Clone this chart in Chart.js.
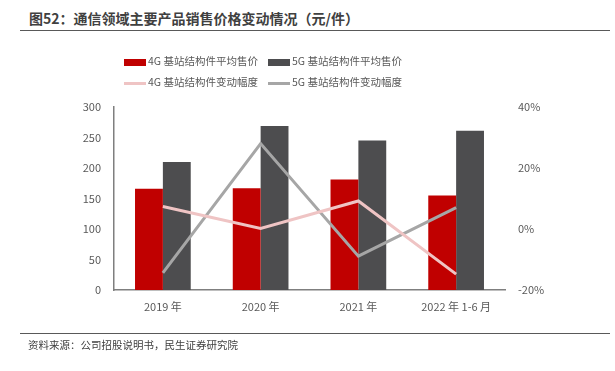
<!DOCTYPE html>
<html lang="zh">
<head>
  <meta charset="UTF-8" />
  <title>通信领域主要产品销售价格变动情况</title>
  <script src="https://cdn.jsdelivr.net/npm/chart.js"></script>
  <style>
    body { margin: 0; width: 615px; height: 371px; background: #fff; position: relative; overflow: hidden;
           font-family: "Noto Sans CJK SC", "Noto Sans", sans-serif; }
    #wrap { position: absolute; left: 0; top: 0; width: 615px; height: 371px; }
    .title { position: absolute; left: 29px; top: 8px; font-size: 14px; font-weight: bold; color: #404040; white-space: nowrap; }
    .rule { position: absolute; left: 20px; width: 590px; height: 0; border-top: 1.5px solid #595959; }
    .legend { position: absolute; font-size: 10.5px; color: #595959; white-space: nowrap; }
    .item { position: absolute; top: 0; }
    .item i { display: inline-block; width: 22px; vertical-align: middle; margin-right: 2px; }
    .source { position: absolute; left: 28px; top: 337px; font-size: 10.5px; color: #404040; white-space: nowrap; }
  </style>
</head>
<body>
  <div class="title">图52：通信领域主要产品销售价格变动情况（元/件）</div>
  <div class="rule" style="top:30px"></div>

  <div id="wrap"><canvas id="priceChart" width="615" height="371"></canvas></div>

  <div class="legend" id="legend"></div>

  <div class="rule" style="top:333px"></div>
  <div class="source">资料来源：公司招股说明书，民生证券研究院</div>

  <script>
    const categories = ["2019年", "2020年", "2021年", "2022年1-6月"];
    const tickLabels = ["2019 年", "2020 年", "2021 年", "2022 年 1-6 月"];
    const price4G = [166, 167, 181, 155];
    const price5G = [210, 269, 245, 261];
    const change4G = [7.4, 0.2, 9.2, -14.8];
    const change5G = [-14.4, 28.0, -8.9, 7.0];

    const names = ["4G 基站结构件平均售价", "5G 基站结构件平均售价", "4G 基站结构件变动幅度", "5G 基站结构件变动幅度"];
    const colors = ["#c00000", "#4d4d4f", "#efc4c4", "#a6a6a6"];

    // legend, two rows like the original
    const legend = document.getElementById("legend");
    const pos = [[124, 53], [268, 53], [124, 74], [268, 74]];
    names.forEach((n, i) => {
      const d = document.createElement("div");
      d.className = "item";
      d.style.left = pos[i][0] + "px";
      d.style.top = pos[i][1] + "px";
      const h = i < 2 ? 7 : 3;
      d.innerHTML = `<i style="height:${h}px;background:${colors[i]}"></i>${n}`;
      legend.appendChild(d);
    });

    const axisColor = "#7f7f7f";
    const tickFont = { family: "Noto Sans CJK SC", size: 11 };

    new Chart(document.getElementById("priceChart"), {
      data: {
        labels: tickLabels,
        datasets: [
          { type: "line", label: names[2], data: change4G, yAxisID: "y1", borderColor: colors[2],
            borderWidth: 3, pointRadius: 0, order: 0 },
          { type: "line", label: names[3], data: change5G, yAxisID: "y1", borderColor: colors[3],
            borderWidth: 3, pointRadius: 0, order: 0 },
          { type: "bar", label: names[0], data: price4G, yAxisID: "y", backgroundColor: colors[0],
            categoryPercentage: 0.57, barPercentage: 1, order: 1 },
          { type: "bar", label: names[1], data: price5G, yAxisID: "y", backgroundColor: colors[1],
            categoryPercentage: 0.57, barPercentage: 1, order: 1 }
        ]
      },
      options: {
        responsive: false,
        animation: false,
        layout: { padding: { left: 0, right: 0, top: 107, bottom: 0 } },
        plugins: { legend: { display: false }, tooltip: { enabled: false } },
        scales: {
          x: {
            grid: { display: false, drawTicks: false },
            border: { color: axisColor, width: 1.5 },
            ticks: { color: "#595959", font: tickFont, padding: 10 },
            afterFit: s => { s.height = 81; }
          },
          y: {
            position: "left", min: 0, max: 300,
            grid: { display: false, drawTicks: false },
            border: { color: axisColor, width: 1.5 },
            ticks: { stepSize: 50, color: "#595959", font: tickFont, padding: 13 },
            afterFit: s => { s.width = 114; }
          },
          y1: {
            position: "right", min: -20, max: 40,
            grid: { display: false, drawTicks: false },
            border: { display: false },
            ticks: { stepSize: 20, color: "#595959", font: tickFont, padding: 13,
                     callback: v => v + "%" },
            afterFit: s => { s.width = 110; }
          }
        }
      }
    });
  </script>
</body>
</html>
